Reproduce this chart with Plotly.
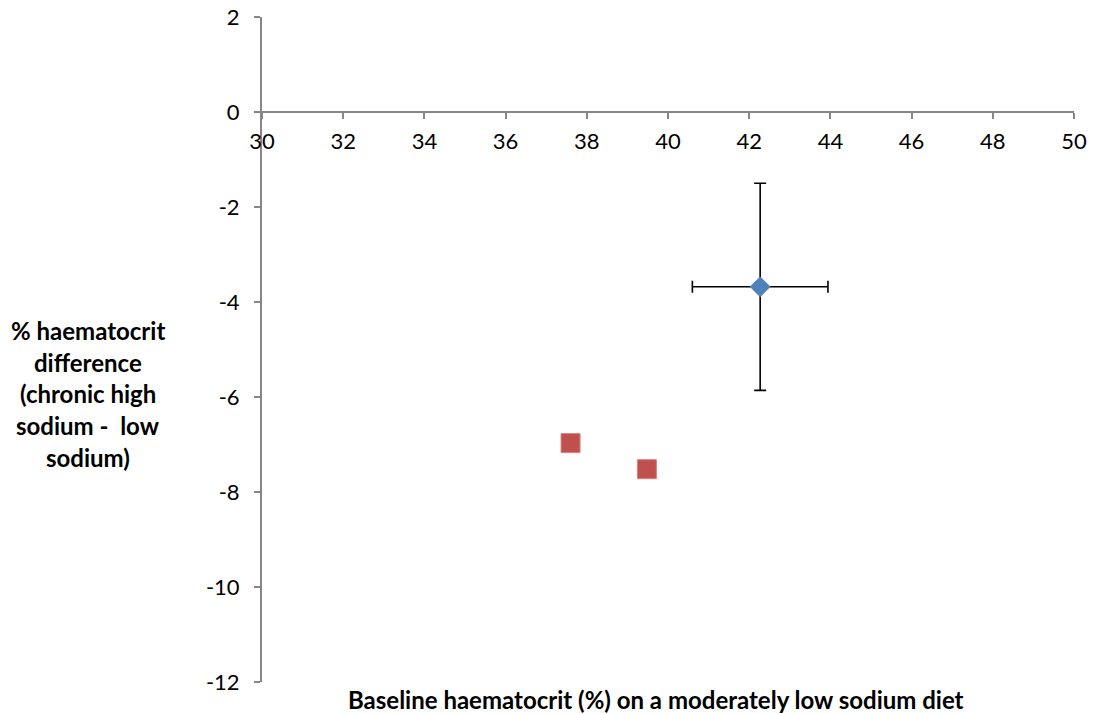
import plotly.graph_objects as go

# Mean response with SD error bars
mean_x = [42.27]
mean_y = [-3.68]
mean_x_err = [1.67]
mean_y_err = [2.18]

# Individual studies
study_x = [37.6, 39.48]
study_y = [-6.97, -7.52]

x_ticks = [30, 32, 34, 36, 38, 40, 42, 44, 46, 48, 50]
y_ticks = [2, 0, -2, -4, -6, -8, -10, -12]

y_title_lines = ["% haematocrit", "difference", "(chronic high", "sodium -  low", "sodium)"]
x_title = "Baseline haematocrit (%) on a moderately low sodium diet"

FONT = "Lato, 'Open Sans', sans-serif"
AXIS_GREY = "#868686"

fig = go.Figure()

fig.add_trace(go.Scatter(
    x=mean_x, y=mean_y, mode="markers",
    marker=dict(symbol="diamond", size=16, color="#4F81BD",
                line=dict(width=0)),
    error_x=dict(type="data", array=mean_x_err, color="black",
                 thickness=1.6, width=6),
    error_y=dict(type="data", array=mean_y_err, color="black",
                 thickness=1.6, width=6),
    showlegend=False,
))

fig.add_trace(go.Scatter(
    x=study_x, y=study_y, mode="markers",
    marker=dict(symbol="square", size=19, color="#C0504D",
                line=dict(width=1, color="#D9827F")),
    showlegend=False,
))

fig.update_xaxes(
    range=[30, 50], tickvals=x_ticks, ticktext=[str(v) for v in x_ticks],
    showgrid=False, zeroline=False, showline=True, linecolor=AXIS_GREY,
    linewidth=2, ticks="outside", ticklen=6, tickwidth=2, tickcolor=AXIS_GREY,
    anchor="free", position=12 / 14, side="bottom", automargin=False,
    ticklabelstandoff=4,
    tickfont=dict(family=FONT, size=22, color="black"),
)
fig.update_yaxes(
    range=[-12, 2], tickvals=y_ticks, ticktext=[str(v) for v in y_ticks],
    showgrid=False, zeroline=False, showline=True, linecolor=AXIS_GREY,
    linewidth=2, ticks="outside", ticklen=6, tickwidth=2, tickcolor=AXIS_GREY,
    automargin=False, ticklabelstandoff=10,
    tickfont=dict(family=FONT, size=22, color="black"),
)

# Horizontal y-axis title, one annotation per line
plot_top, plot_bottom = 17, 682
line_centres = [330, 362, 393, 425, 457]
for text, py in zip(y_title_lines, line_centres):
    fig.add_annotation(
        text=f"<b>{text}</b>", xref="paper", yref="paper",
        x=(88 - 262) / (1074 - 262), y=(plot_bottom - py) / (plot_bottom - plot_top),
        xanchor="center", yanchor="middle", showarrow=False,
        font=dict(family=FONT, size=24, color="black"),
    )

fig.add_annotation(
    text=f"<b>{x_title}</b>", xref="paper", yref="paper",
    x=(656 - 262) / (1074 - 262), y=(plot_bottom - 699) / (plot_bottom - plot_top),
    xanchor="center", yanchor="middle", showarrow=False,
    font=dict(family=FONT, size=24, color="black"),
)

fig.update_layout(
    width=1096, height=714,
    margin=dict(l=262, r=22, t=17, b=32),
    paper_bgcolor="white", plot_bgcolor="white",
)

fig.write_html("out.html")
